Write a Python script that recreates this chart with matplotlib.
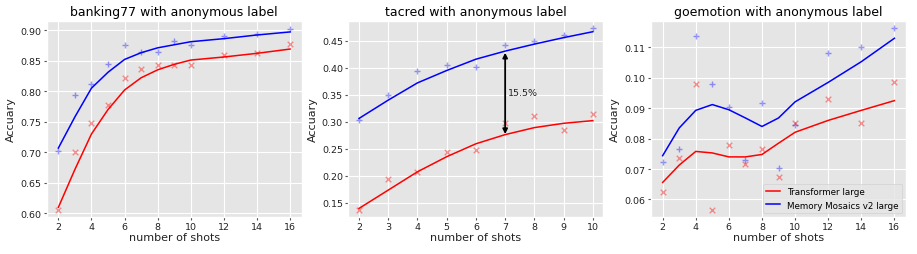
import numpy as np
import matplotlib
matplotlib.use("Agg")
import matplotlib.pyplot as plt

plt.style.use("ggplot")

# banking77
bank_x = [2, 3, 4, 5, 6, 7, 8, 9, 10, 12, 14, 16]
bank_mm_pts = [0.703, 0.794, 0.811, 0.845, 0.875, 0.864, 0.864, 0.882, 0.876, 0.890, 0.894, 0.901]
bank_mm_fit = [0.707, 0.758, 0.805, 0.831, 0.852, 0.863, 0.871, 0.876, 0.881, 0.886, 0.892, 0.897]
bank_tf_pts = [0.606, 0.700, 0.748, 0.777, 0.822, 0.836, 0.843, 0.843, 0.843, 0.860, 0.863, 0.877]
bank_tf_fit = [0.610, 0.672, 0.730, 0.770, 0.802, 0.822, 0.835, 0.844, 0.851, 0.856, 0.862, 0.869]

# tacred
tac_x = [2, 3, 4, 5, 6, 7, 8, 9, 10]
tac_mm_pts = [0.303, 0.349, 0.394, 0.406, 0.402, 0.442, 0.449, 0.460, 0.474]
tac_mm_fit = [0.306, 0.340, 0.372, 0.395, 0.416, 0.431, 0.444, 0.456, 0.467]
tac_tf_pts = [0.137, 0.193, 0.207, 0.244, 0.248, 0.298, 0.310, 0.285, 0.314]
tac_tf_fit = [0.139, 0.173, 0.207, 0.235, 0.259, 0.276, 0.289, 0.297, 0.302]

# goemotion
goe_x = [2, 3, 4, 5, 6, 7, 8, 9, 10, 12, 14, 16]
goe_mm_pts = [0.0724, 0.0767, 0.1137, 0.0980, 0.0903, 0.0731, 0.0916, 0.0703, 0.0846, 0.1080, 0.1101, 0.1165]
goe_mm_fit = [0.0744, 0.0835, 0.0893, 0.0912, 0.0895, 0.0868, 0.0840, 0.0868, 0.0921, 0.0985, 0.1053, 0.1130]
goe_tf_pts = [0.0624, 0.0738, 0.0980, 0.0567, 0.0780, 0.0717, 0.0766, 0.0674, 0.0853, 0.0931, 0.0852, 0.0987]
goe_tf_fit = [0.0656, 0.0713, 0.0758, 0.0753, 0.0740, 0.0740, 0.0748, 0.0785, 0.0821, 0.0860, 0.0893, 0.0925]

fig = plt.figure(figsize=(9.17, 2.55), dpi=100)
lefts = [0.051, 0.380, 0.710]
w = 0.278
bottom, h = 0.147, 0.767

panels = [
    ("banking77 with anonymous label", bank_x, bank_mm_pts, bank_mm_fit, bank_tf_pts, bank_tf_fit,
     [2, 4, 6, 8, 10, 12, 14, 16], [0.60, 0.65, 0.70, 0.75, 0.80, 0.85, 0.90]),
    ("tacred with anonymous label", tac_x, tac_mm_pts, tac_mm_fit, tac_tf_pts, tac_tf_fit,
     tac_x, [0.15, 0.20, 0.25, 0.30, 0.35, 0.40, 0.45]),
    ("goemotion with anonymous label", goe_x, goe_mm_pts, goe_mm_fit, goe_tf_pts, goe_tf_fit,
     [2, 4, 6, 8, 10, 12, 14, 16], [0.06, 0.07, 0.08, 0.09, 0.10, 0.11]),
]

axes = []
for i, (title, x, mp, mf, tp, tf, xt, yt) in enumerate(panels):
    ax = fig.add_axes([lefts[i], bottom, w, h])
    ax.plot(x, tf, color="red", lw=1.1, label="Transformer large")
    ax.plot(x, mf, color="blue", lw=1.1, label="Memory Mosaics v2 large")
    ax.scatter(x, tp, marker="x", color="red", alpha=0.4, s=16, linewidths=1)
    ax.scatter(x, mp, marker="+", color="blue", alpha=0.4, s=20, linewidths=1)
    ax.set_title(title, fontsize=9, color="black", pad=4)
    ax.set_xlabel("number of shots", fontsize=8, color="#222222", labelpad=1)
    ax.set_ylabel("Accuary", fontsize=8, color="#222222", labelpad=3)
    ax.set_xticks(xt)
    ax.set_yticks(yt)
    ax.yaxis.set_major_formatter(matplotlib.ticker.FormatStrFormatter("%.2f"))
    ax.tick_params(labelsize=6.8, labelcolor="#222222", length=2, pad=2)
    axes.append(ax)

axes[0].set_xlim(1.3, 16.7)
axes[0].set_ylim(0.595, 0.915)
axes[1].set_xlim(1.64, 10.36)
axes[1].set_ylim(0.124, 0.487)
axes[2].set_xlim(1.3, 16.7)
axes[2].set_ylim(0.0544, 0.1187)

axes[1].annotate("", xy=(7, 0.277), xytext=(7, 0.428),
                 arrowprops=dict(arrowstyle="<|-|>", color="black", lw=1.3,
                                 mutation_scale=7, shrinkA=0, shrinkB=0))
axes[1].text(7.1, 0.355, "15.5%", fontsize=6.8, color="#222222", va="center")

axes[2].legend(loc="lower right", fontsize=6.3, facecolor="#e5e5e5", edgecolor="#cccccc",
               framealpha=0.8, borderaxespad=0.4, handlelength=1.6)

fig.savefig("out.png", dpi=100)
